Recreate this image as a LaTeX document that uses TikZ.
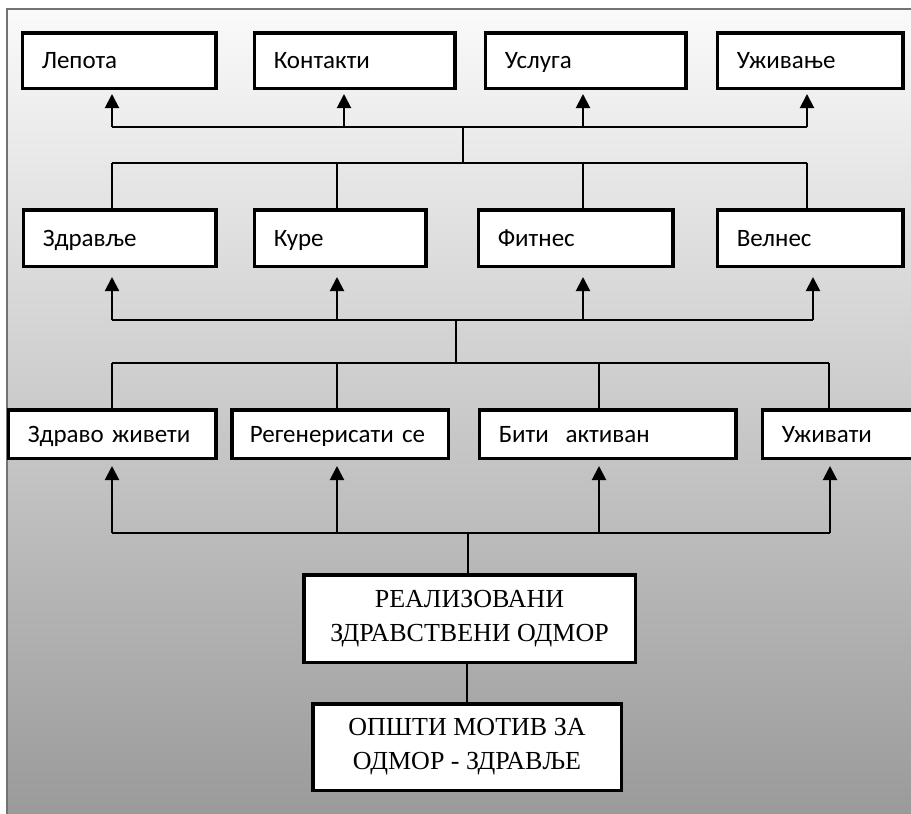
\documentclass[tikz,border=0pt]{standalone}
\usepackage{fontspec}
\setmainfont{Carlito}
\newfontfamily\tnr{Liberation Serif}
\usetikzlibrary{arrows.meta}
\begin{document}
\begin{tikzpicture}[x=1pt,y=-1pt,
  box/.style={draw=black,line width=3.5pt,fill=white,inner xsep=19.5pt,inner ysep=0pt,
    align=left,text height=21pt,text depth=5pt,font=\fontsize{25}{28}\selectfont},
  bigbox/.style={draw=black,line width=3.5pt,fill=white,inner sep=0pt,align=center,
    font=\tnr\fontsize{26}{34}\selectfont},
  ln/.style={line width=2pt,draw=black},
  arr/.style={line width=2pt,draw=black,-{Triangle[width=14pt,length=14pt]}}]
\useasboundingbox (0,0) rectangle (911,814);
\clip (0,0) rectangle (911,814);
\fill[white] (0,0) rectangle (911,814);
\shade[top color=white!98!black, middle color=black!18, bottom color=black!40] (7,9) rectangle (925,825);
\draw[line width=2pt,draw=black!55] (925,9) -- (7,9) -- (7,825);

% row 1
\node[box,text width=154.5pt,minimum height=55.5pt] (lep) at (119,60.5) {Лепота};
\node[box,text width=161.5pt,minimum height=55.5pt] (kon) at (354.5,60.5) {Контакти};
\node[box,text width=161.5pt,minimum height=55.5pt] (usl) at (585.5,60.5) {Услуга};
\node[box,text width=146.5pt,minimum height=55.5pt] (uzn) at (810,60.5) {Уживање};
% row 2
\node[box,text width=153.5pt,minimum height=56.5pt] (zdr) at (119.5,238) {Здравље};
\node[box,text width=132.5pt,minimum height=56.5pt] (kur) at (340,238) {Куре};
\node[box,text width=155.5pt,minimum height=56.5pt] (fit) at (575.5,238) {Фитнес};
\node[box,text width=146.5pt,minimum height=56.5pt] (vel) at (810,238) {Велнес};
% row 3
\node[box,text width=168.5pt,minimum height=48.5pt] (zz) at (112,434) {Здраво живети};
\node[box,text width=180.5pt,minimum height=48.5pt,inner xsep=18pt] (reg) at (340,434) {Регенерисати се};
\node[box,text width=217.5pt,minimum height=48.5pt] (bit) at (607.5,434) {Бити\ \ активан};
\node[box,text width=111.5pt,minimum height=48.5pt] (uzv) at (837.5,434) {Уживати};
% bottom
\node[bigbox,minimum width=331.5pt,minimum height=87.5pt] (real) at (469.5,618.5) {РЕАЛИЗОВАНИ\\ЗДРАВСТВЕНИ ОДМОР};
\node[bigbox,minimum width=308.5pt,minimum height=86.5pt] (opst) at (467,747) {ОПШТИ МОТИВ ЗА\\ОДМОР - ЗДРАВЉЕ};

% top group
\coordinate (a1) at (112,127);
\coordinate (a2) at (344,127);
\coordinate (a3) at (583,127);
\coordinate (a4) at (807,127);
\coordinate (aT) at (463,127);
\coordinate (aB) at (463,163);
\coordinate (b1) at (112,163);
\coordinate (b2) at (337,163);
\coordinate (b3) at (583,163);
\coordinate (b4) at (807,163);
\draw[arr,shorten >=4pt] (a1) -- (lep.south -| a1);
\draw[arr,shorten >=4pt] (a2) -- (kon.south -| a2);
\draw[arr,shorten >=4pt] (a3) -- (usl.south -| a3);
\draw[arr,shorten >=4pt] (a4) -- (uzn.south -| a4);
\draw[ln] (a1) -- (a4);
\draw[ln] (aT) -- (aB);
\draw[ln] (b1) -- (b4);
\draw[ln] (b1) -- (zdr.north -| b1);
\draw[ln] (b2) -- (kur.north -| b2);
\draw[ln] (b3) -- (fit.north -| b3);
\draw[ln] (b4) -- (vel.north -| b4);

% middle group
\coordinate (c1) at (112,320);
\coordinate (c2) at (337,320);
\coordinate (c3) at (583,320);
\coordinate (c4) at (813,320);
\coordinate (cT) at (456,320);
\coordinate (cB) at (456,363);
\coordinate (d1) at (112,363);
\coordinate (d2) at (337,363);
\coordinate (d3) at (599,363);
\coordinate (d4) at (829,363);
\draw[arr,shorten >=9pt] (c1) -- (zdr.south -| c1);
\draw[arr,shorten >=9pt] (c2) -- (kur.south -| c2);
\draw[arr,shorten >=9pt] (c3) -- (fit.south -| c3);
\draw[arr,shorten >=9pt] (c4) -- (vel.south -| c4);
\draw[ln] (c1) -- (c4);
\draw[ln] (cT) -- (cB);
\draw[ln] (d1) -- (d4);
\draw[ln] (d1) -- (zz.north -| d1);
\draw[ln] (d2) -- (reg.north -| d2);
\draw[ln] (d3) -- (bit.north -| d3);
\draw[ln] (d4) -- (uzv.north -| d4);

% bottom group
\coordinate (e1) at (112,533);
\coordinate (e2) at (337,533);
\coordinate (e3) at (599,533);
\coordinate (e4) at (830,533);
\coordinate (eT) at (468,533);
\draw[arr,shorten >=6pt] (e1) -- (zz.south -| e1);
\draw[arr,shorten >=6pt] (e2) -- (reg.south -| e2);
\draw[arr,shorten >=6pt] (e3) -- (bit.south -| e3);
\draw[arr,shorten >=6pt] (e4) -- (uzv.south -| e4);
\draw[ln] (e1) -- (e4);
\draw[ln] (eT) -- (real.north -| eT);
\draw[ln] (real.south -| opst) -- (opst.north);
\end{tikzpicture}
\end{document}
